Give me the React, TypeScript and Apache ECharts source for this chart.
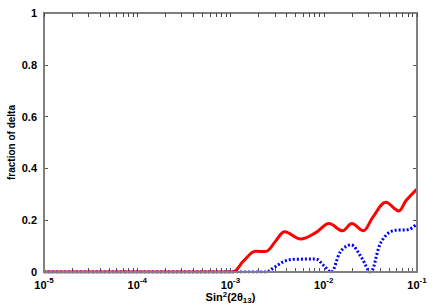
import React, { useEffect, useRef } from "react";
import * as echarts from "echarts";

const redX = [1e-5, 1.04e-3, 1.38e-3, 1.86e-3, 2.38e-3, 3.05e-3, 3.81e-3, 5.66e-3, 8.2e-3, 1.14e-2, 1.59e-2, 2.0e-2, 2.65e-2, 3.34e-2, 4.65e-2, 6.36e-2, 7.6e-2, 0.1];
const redY = [0, 0, 0.043, 0.08, 0.079, 0.12, 0.155, 0.127, 0.152, 0.187, 0.159, 0.187, 0.159, 0.21, 0.269, 0.236, 0.275, 0.32];

const blueX = [1e-5, 2.38e-3, 3.0e-3, 3.81e-3, 4.8e-3, 8.2e-3, 1.0e-2, 1.19e-2, 1.52e-2, 1.95e-2, 2.5e-2, 3.15e-2, 4.1e-2, 5.48e-2, 8.26e-2, 0.1];
const blueY = [0, 0, 0.02, 0.042, 0.049, 0.05, 0.025, 0, 0.08, 0.105, 0.06, 0, 0.114, 0.159, 0.165, 0.187];

const yTicks = [0, 0.2, 0.4, 0.6, 0.8, 1];

const FONT = "Liberation Sans";
const H = 305;

export default function App() {
  const ref = useRef<HTMLDivElement>(null);
  useEffect(() => {
    if (!ref.current) return;
    const chart = echarts.init(ref.current, null, { renderer: "svg" });
    const supRich = {
      b: { fontFamily: FONT, fontWeight: "bold", fontSize: 11, color: "#000", lineHeight: 14, verticalAlign: "bottom" },
      s: { fontFamily: FONT, fontWeight: "bold", fontSize: 8, color: "#000", lineHeight: 8, verticalAlign: "top" },
    };
    chart.setOption({
      animation: false,
      grid: {
        left: 44, right: 19, top: 13, bottom: 33,
        containLabel: false, outerBoundsMode: "none",
        show: true, borderColor: "#808080", borderWidth: 2, backgroundColor: "rgba(0,0,0,0)", z: 10,
      },
      xAxis: [
        {
          type: "log",
          min: 1e-5,
          max: 0.1,
          logBase: 10,
          splitLine: { show: false },
          position: "bottom",
          axisLine: { show: true, onZero: false, lineStyle: { color: "#000", width: 1 } },
          axisTick: { show: true, inside: true, length: 4, lineStyle: { color: "#555" } },
          minorTick: { show: true, splitNumber: 9, length: 4, lineStyle: { color: "#555" } },
          axisLabel: {
            margin: 4,
            formatter: (v: number) => `{b|10}{s|${Math.round(Math.log10(v))}}`,
            rich: supRich,
          },
          name: "{b|Sin}{s|2}{b|(2θ}{u|13}{b|)}",
          nameLocation: "middle",
          nameGap: 18,
          nameMoveOverlap: false,
          nameTextStyle: {
            rich: {
              b: { fontFamily: FONT, fontWeight: "bold", fontSize: 11, color: "#000", lineHeight: 14, verticalAlign: "middle" },
              s: { fontFamily: FONT, fontWeight: "bold", fontSize: 8, color: "#000", lineHeight: 8, verticalAlign: "top" },
              u: { fontFamily: FONT, fontWeight: "bold", fontSize: 8, color: "#000", lineHeight: 8, verticalAlign: "bottom" },
            },
          },
        },
        {
          type: "log",
          min: 1e-5,
          max: 0.1,
          logBase: 10,
          splitLine: { show: false },
          position: "top",
          axisLine: { show: true, onZero: false, lineStyle: { color: "#808080", width: 2 } },
          axisTick: { show: true, inside: true, length: 4, lineStyle: { color: "#444" } },
          minorTick: { show: true, splitNumber: 9, length: 4, lineStyle: { color: "#444" } },
          axisLabel: { show: false },
          z: 10,
        },
      ],
      yAxis: [
        {
          type: "value",
          min: 0,
          max: 1,
          interval: 0.2,
          position: "left",
          splitLine: { show: false },
          axisLine: { show: true, onZero: false, lineStyle: { color: "#000", width: 1 } },
          axisTick: { show: true, inside: true, length: 4, lineStyle: { color: "#555" } },
          axisLabel: {
            margin: 7,
            fontFamily: FONT,
            fontWeight: "bold",
            fontSize: 11,
            color: "#000",
            formatter: (v: number) => {
              const t = yTicks.find((k) => Math.abs(k - v) < 1e-9);
              return t === undefined ? "" : String(t);
            },
          },
          name: "fraction of delta",
          nameLocation: "middle",
          nameGap: 28,
          nameMoveOverlap: false,
          nameTextStyle: { fontFamily: FONT, fontWeight: "bold", fontSize: 10, color: "#000" },
        },
        {
          type: "value",
          min: 0,
          max: 1,
          interval: 0.2,
          position: "right",
          splitLine: { show: false },
          axisLine: { show: true, onZero: false, lineStyle: { color: "#555", width: 2 } },
          axisTick: { show: true, inside: true, length: 4, lineStyle: { color: "#555" } },
          axisLabel: { show: false },
        },
      ],
      series: [
        {
          type: "line",
          xAxisIndex: 0,
          yAxisIndex: 0,
          data: redX.map((x, i) => [x, redY[i]]),
          smooth: 0.35,
          showSymbol: false,
          lineStyle: { color: "#ff0000", width: 3 },
          z: 3,
        },
        {
          type: "line",
          xAxisIndex: 1,
          yAxisIndex: 1,
          data: blueX.map((x, i) => [x, blueY[i]]),
          smooth: 0.35,
          showSymbol: false,
          lineStyle: { color: "#0000ff", width: 3, type: [2, 2] },
          z: 4,
        },
      ],
    });
    return () => chart.dispose();
  }, []);
  return <div ref={ref} style={{ width: 436, height: H, position: "absolute", left: 0, top: 0 }} />;
}
